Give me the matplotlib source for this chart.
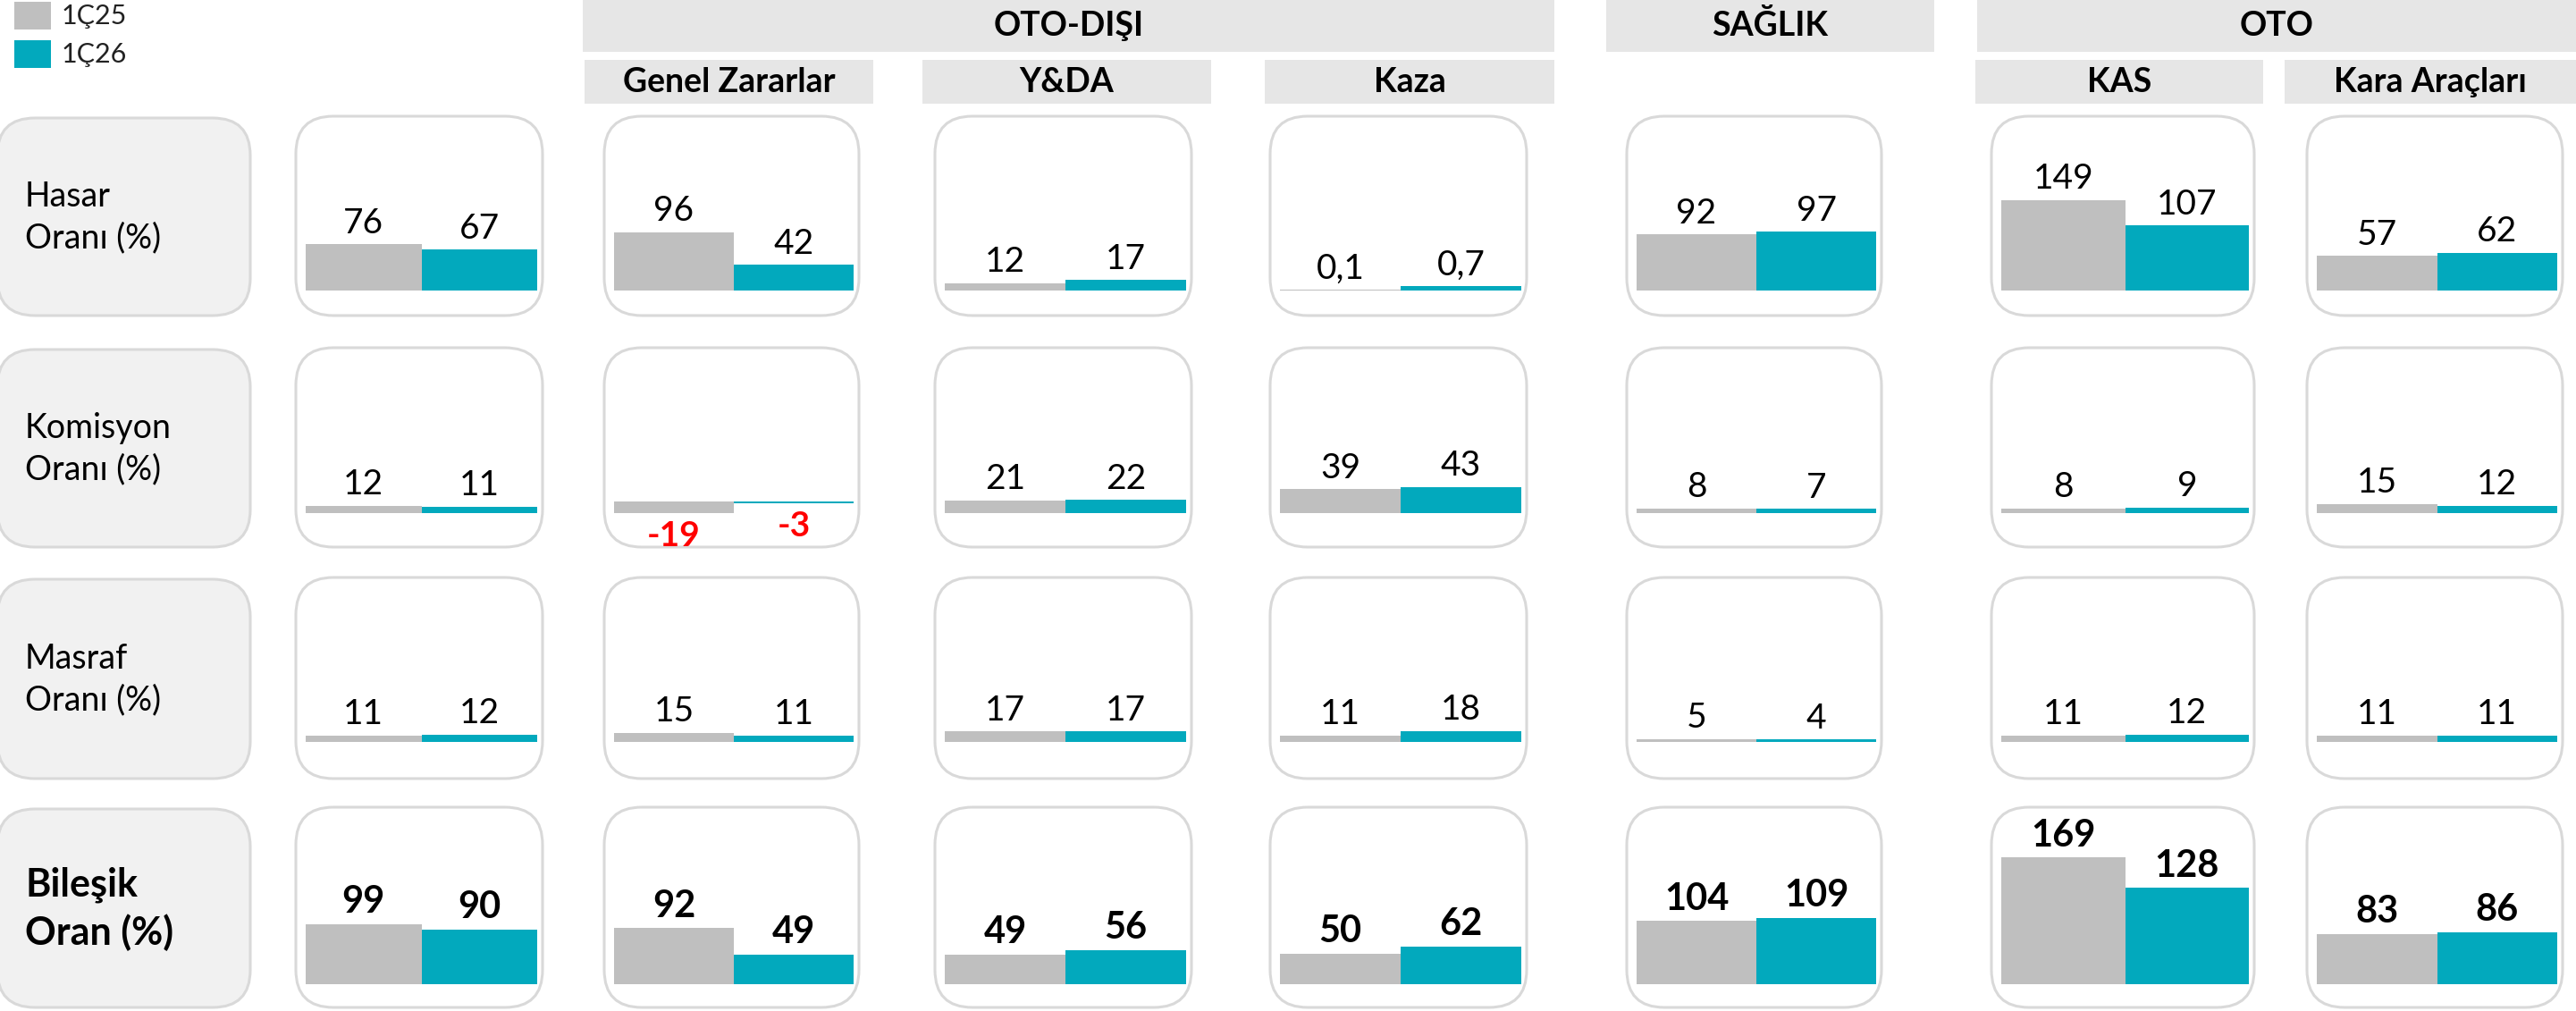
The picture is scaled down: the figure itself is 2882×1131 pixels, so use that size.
import numpy as np
import matplotlib.pyplot as plt
from matplotlib.patches import FancyBboxPatch, Rectangle

plt.rcParams['font.family'] = ['Lato', 'DejaVu Sans']

W, H = 2882, 1131

series = ['1Ç25', '1Ç26']
groups = ['OTO-DIŞI', 'SAĞLIK', 'OTO']
branches = ['Genel Zararlar', 'Y&DA', 'Kaza', 'KAS', 'Kara Araçları']
ratios = ['Hasar\nOranı (%)', 'Komisyon\nOranı (%)', 'Masraf\nOranı (%)', 'Bileşik\nOran (%)']

# columns: total, Genel Zararlar, Y&DA, Kaza, Sağlık, KAS, Kara Araçları
hasar_25 = [76, 96, 12, 0.1, 92, 149, 57]
hasar_26 = [67, 42, 17, 0.7, 97, 107, 62]
komisyon_25 = [12, -19, 21, 39, 8, 8, 15]
komisyon_26 = [11, -3, 22, 43, 7, 9, 12]
masraf_25 = [11, 15, 17, 11, 5, 11, 11]
masraf_26 = [12, 11, 17, 18, 4, 12, 11]
bilesik_25 = [99, 92, 49, 50, 104, 169, 83]
bilesik_26 = [90, 49, 56, 62, 109, 128, 86]

rows_25 = [hasar_25, komisyon_25, masraf_25, bilesik_25]
rows_26 = [hasar_26, komisyon_26, masraf_26, bilesik_26]

GRAY = '#BFBFBF'
CYAN = '#02A9BD'
EDGE = '#D9D9D9'
HEAD = '#E6E6E6'

## layout in pixels (origin top-left)
col_x = [(331, 607), (676, 961), (1046, 1333), (1421, 1708),
         (1820, 2105), (2228, 2522), (2581, 2867)]
row_y = [(130, 353), (389, 612), (646, 871), (903, 1127)]
base_off = [28, 38, 41, 26]
scale = np.full((4, 7), 0.68)   # px per unit
scale[0, 3] = 6.7
scale[3, 5] = 0.84

top_boxes = [(groups[0], 652, 1739), (groups[1], 1797, 2164), (groups[2], 2212, 2890)]
sub_boxes = [(branches[0], 654, 977), (branches[1], 1032, 1355), (branches[2], 1415, 1739),
             (branches[3], 2210, 2532), (branches[4], 2556, 2890)]


def fmt(v):
    if float(v).is_integer():
        return '%d' % v
    return ('%.1f' % v).replace('.', ',')


fig = plt.figure(figsize=(W / 100, H / 100), dpi=100)
bg = fig.add_axes([0, 0, 1, 1])
bg.set_xlim(0, W)
bg.set_ylim(H, 0)
bg.axis('off')

## legend
for i, (name, col) in enumerate(zip(series, [GRAY, CYAN])):
    y = 2 + i * 43
    bg.add_patch(Rectangle((16, y), 41, 31, fc=col, ec='none'))
    bg.text(69, y + 16, name, fontsize=22, color='#222222', va='center', ha='left')

## headers
for name, x0, x1 in top_boxes:
    bg.add_patch(Rectangle((x0, 0), x1 - x0, 58, fc=HEAD, ec='none'))
    bg.text((x0 + min(x1, W)) / 2, 29, name, fontsize=27,
            fontweight='bold', ha='center', va='center')
for name, x0, x1 in sub_boxes:
    bg.add_patch(Rectangle((x0, 67), x1 - x0, 49, fc=HEAD, ec='none'))
    bg.text((x0 + min(x1, W)) / 2, 92, name, fontsize=27,
            fontweight='bold', ha='center', va='center')

## row labels
for r, (y0, y1) in enumerate(row_y):
    bg.add_patch(FancyBboxPatch((-3, y0 + 2), 283, y1 - y0 - 2,
                                boxstyle='round,pad=0,rounding_size=42',
                                fc='#F1F1F1', ec=EDGE, lw=2.2))
    bold = r == 3
    bg.text(28, (y0 + y1) / 2 + 2, ratios[r], fontsize=31 if bold else 27,
            fontweight='bold' if bold else 'normal', ha='left', va='center',
            linespacing=1.35)

## cells
for r, (y0, y1) in enumerate(row_y):
    for c, (x0, x1) in enumerate(col_x):
        bg.add_patch(FancyBboxPatch((x0, y0), x1 - x0, y1 - y0,
                                    boxstyle='round,pad=0,rounding_size=42',
                                    fc='white', ec=EDGE, lw=2.2))
        vals = [rows_25[r][c], rows_26[r][c]]
        s = scale[r, c]
        bx0, bx1 = x0 + 11, x1 - 6
        ybot = y1 - base_off[r]
        hpx = ybot - (y0 + 10)
        lo = min(0, min(vals))
        ax = fig.add_axes([bx0 / W, (H - ybot) / H, (bx1 - bx0) / W, hpx / H])
        ax.bar([0, 1], vals, width=1.0, color=[GRAY, CYAN])
        ax.set_xlim(-0.5, 1.5)
        ax.set_ylim(lo, lo + hpx / s)
        ax.axis('off')
        for i, v in enumerate(vals):
            if v >= 0:
                ax.annotate(fmt(v), (i, v), xytext=(0, 9), textcoords='offset points',
                            ha='center', va='baseline', fontsize=30 if r == 3 else 28,
                            fontweight='bold' if r == 3 else 'normal',
                            annotation_clip=False)
            else:
                ax.annotate(fmt(v), (i, v), xytext=(0, -6), textcoords='offset points',
                            ha='center', va='top', fontsize=28, color='red',
                            fontweight='bold', annotation_clip=False)

fig.savefig('out.png', dpi=100)
